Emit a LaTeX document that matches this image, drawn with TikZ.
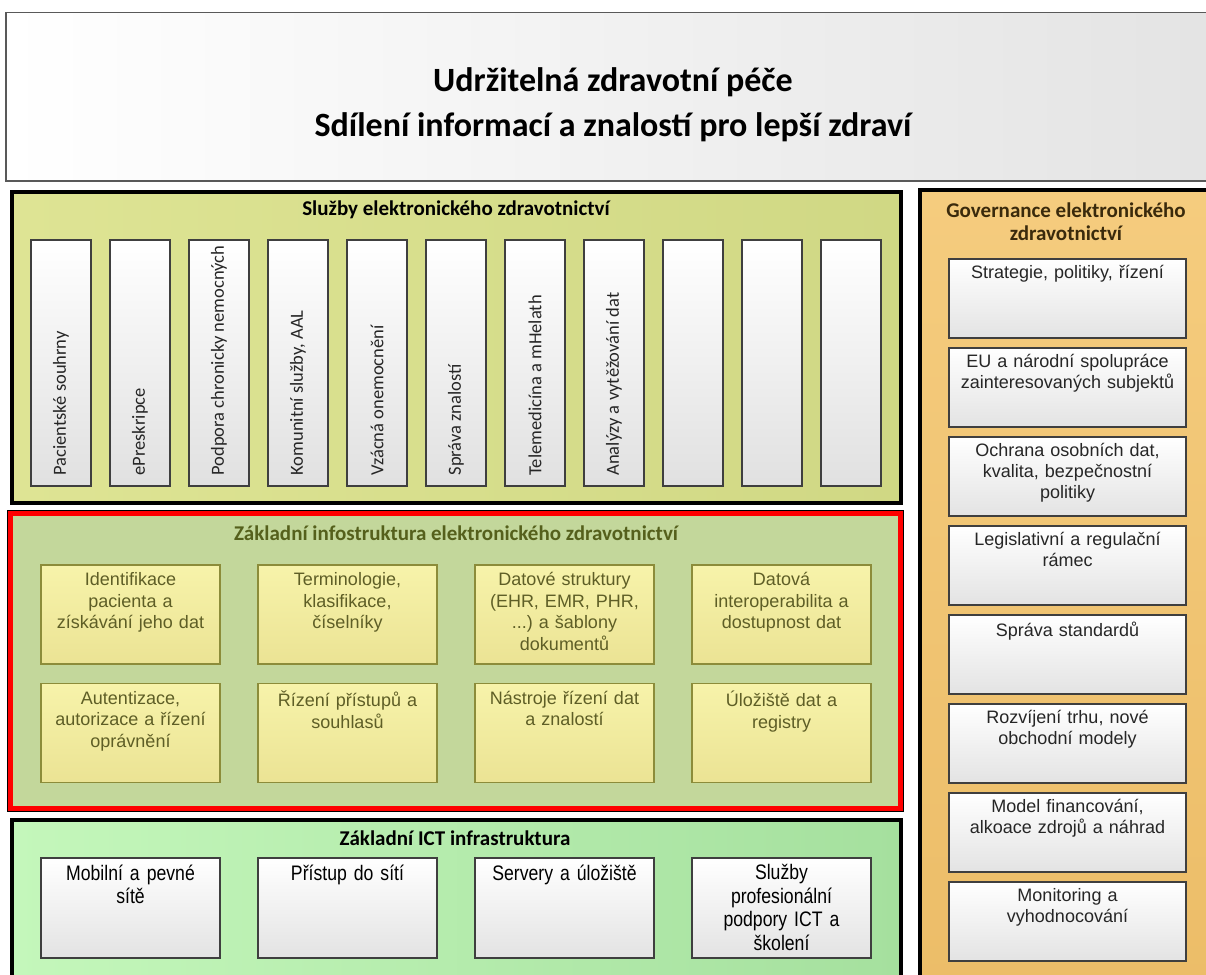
\documentclass[tikz,border=0pt]{standalone}
\usepackage{fontspec}
\setmainfont{Liberation Sans}
\newfontfamily\calfont{Carlito}
\newfontfamily\narrowfont[FakeStretch=0.84]{Liberation Sans}
\newcommand\tridots{...}
\frenchspacing
\usetikzlibrary{calc}

\definecolor{headgray}{HTML}{E3E3E3}
\definecolor{svcleft}{HTML}{DEE494}
\definecolor{svcright}{HTML}{D0D884}
\definecolor{infragreen}{HTML}{C3D79B}
\definecolor{infrared}{HTML}{FF0000}
\definecolor{boxtop}{HTML}{F7F3AA}
\definecolor{boxbottom}{HTML}{EBE394}
\definecolor{boxline}{HTML}{8C8C3A}
\definecolor{olivetext}{HTML}{5E5E26}
\definecolor{olivetitle}{HTML}{55601C}
\definecolor{ictleft}{HTML}{C4F7BB}
\definecolor{ictright}{HTML}{A5E09E}
\definecolor{govtop}{HTML}{F5CC7E}
\definecolor{govbottom}{HTML}{ECBD68}
\definecolor{govtitle}{HTML}{3A2A0C}
\definecolor{paleline}{HTML}{3F3F3F}

\tikzset{
  tierbox/.style={draw=black, line width=4, anchor=north west, inner sep=0pt},
  headbox/.style={draw=black!65, line width=1.5, anchor=north west, left color=white, right color=headgray},
  sectitle/.style={font=\calfont\bfseries\fontsize{21}{23}\selectfont, align=center},
  colbox/.style={draw=paleline, line width=1.3, top color=white, bottom color=black!12, minimum width=60, minimum height=246, inner sep=0pt},
  coltext/.style={rotate=90, anchor=west, inner sep=0pt, font=\calfont\fontsize{18.5}{20}\selectfont, text=black!85},
  yellowbox/.style={draw=boxline, line width=1.3, top color=boxtop, bottom color=boxbottom, minimum width=179, minimum height=99, inner sep=0pt},
  yellowtext/.style={anchor=north, yshift=-8, align=center, text width=177, inner sep=0pt, font=\fontsize{18}{21.5}\selectfont, text=olivetext},
  graybox/.style={draw=paleline, line width=1.3, top color=white, bottom color=black!11, inner sep=0pt},
  icttext/.style={anchor=north, yshift=-7, align=center, text width=177, inner sep=0pt, font=\narrowfont\fontsize{21}{23.5}\selectfont},
  govtext/.style={anchor=north, yshift=-7, align=center, text width=235, inner sep=0pt, font=\fontsize{18}{21}\selectfont, text=black!85}
}

\begin{document}
\begin{tikzpicture}[x=1pt, y=-1pt]
\clip (0,0) rectangle (1206,974);
\node[headbox, minimum width=1240, minimum height=168] (head) at (5,12) {};
\node[font=\calfont\bfseries\fontsize{34}{45}\selectfont, align=center] (headtitle) at (613,105) {Udržitelná zdravotní péče\\Sdílení informací a znalostí pro lepší zdraví};

\node[tierbox, left color=svcleft, right color=svcright, minimum width=889, minimum height=311] (svc) at (10,190) {};
\node[sectitle] (svc-t) at (456,210) {Služby elektronického zdravotnictví};
\foreach \t [count=\i from 0] in {{Pacientské souhrny}, {ePreskripce}, {Podpora chronicky nemocných}, {Komunitní služby, AAL}, {Vzácná onemocnění}, {Správa znalostí}, {Telemedicína a mHelath}, {Analýzy a vytěžování dat}, {}, {}, {}}
  {\node[colbox] (svc\i) at (61+79*\i,363) {};
  \node[coltext] (svc\i-t) at ($(svc\i.south)+(0,-11)$) {\t};}

\node[tierbox, draw=infrared, line width=4.5, preaction={draw=black, line width=7}, fill=infragreen, minimum width=890, minimum height=295] (inf) at (8,511) {};
\node[sectitle, text=olivetitle] (inf-t) at (456,533) {Základní infostruktura elektronického zdravotnictví};
\foreach \t [count=\i from 0] in {{Identifikace\\pacienta a\\získávání jeho dat}, {Terminologie,\\klasifikace,\\číselníky}, {Datové struktury\\(EHR, EMR, PHR,\\\tridots) a šablony\\dokumentů}, {Datová\\interoperabilita a\\dostupnost dat}, {Autentizace,\\autorizace a řízení\\oprávnění}, {Řízení přístupů a\\souhlasů}, {Nástroje řízení dat\\a znalostí}, {Úložiště dat a\\registry}}
  {\pgfmathtruncatemacro{\c}{mod(\i,4)}
  \pgfmathtruncatemacro{\r}{div(\i,4)}
  \node[yellowbox] (inf\i) at (130.5+217*\c,614.5+118.5*\r) {};
  \node[yellowtext] (inf\i-t) at (inf\i.north) {\t};}

\node[tierbox, left color=ictleft, right color=ictright, minimum width=889, minimum height=170] (ict) at (10,818) {};
\node[sectitle] (ict-t) at (455,838) {Základní ICT infrastruktura};
\foreach \t [count=\i from 0] in {{Mobilní a pevné\\sítě}, {Přístup do sítí}, {Servery a úložiště}, {Služby\\profesionální\\podpory ICT a\\školení}}
  {\node[graybox, minimum width=179, minimum height=100] (ict\i) at (130.5+217*\i,908) {};
  \node[icttext] (ict\i-t) at (ict\i.north) {\t};}

\node[tierbox, top color=govtop, bottom color=govbottom, minimum width=300, minimum height=800] (gov) at (918,188) {};
\node[sectitle, text=govtitle] (gov-t) at (1066,222) {Governance elektronického\\zdravotnictví};
\foreach \t [count=\i from 0] in {{Strategie, politiky, řízení}, {EU a národní spolupráce\\zainteresovaných subjektů}, {Ochrana osobních dat,\\kvalita, bezpečnostní\\politiky}, {Legislativní a regulační\\rámec}, {Správa standardů}, {Rozvíjení trhu, nové\\obchodní modely}, {Model financování,\\alkoace zdrojů a náhrad}, {Monitoring a\\vyhodnocování}}
  {\node[graybox, minimum width=237, minimum height=79] (gov\i) at (1067.5,298.5+89*\i) {};
  \node[govtext] (gov\i-t) at (gov\i.north) {\t};}
\end{tikzpicture}
\end{document}
